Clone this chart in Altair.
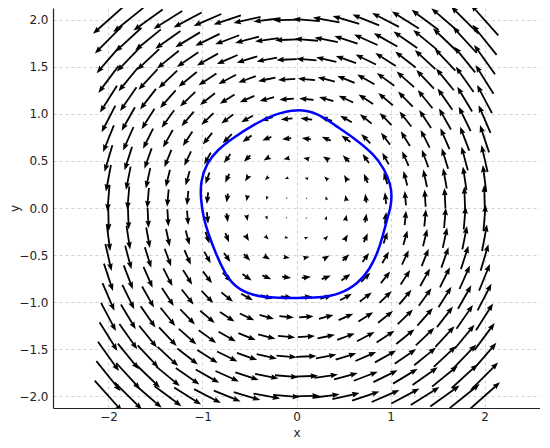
import math
import pandas as pd
import altair as alt

# ---------------- data ----------------
# arrow centres (20 x 20 grid, spacing ~0.21, centres at +-0.105 around 0)
grid = [-2.0, -1.789, -1.579, -1.368, -1.158, -0.947, -0.737, -0.526, -0.316, -0.105,
        0.105, 0.316, 0.526, 0.737, 0.947, 1.158, 1.368, 1.579, 1.789, 2.0]

# counter-clockwise rotating field; arrow length (px) read at r~0.5 (~6.5px), r=1 (~12px), corners (~41px)
LEN_LINEAR = 12.0       # px per unit radius
LEN_CUBIC = 0.33        # px per unit radius^3
OUTWARD_TILT_DEG = 3.3  # tilt away from pure rotation seen at the corners (r = 2.83)

# blue closed curve (rounded pentagon)
curve_x = [1.0, 1.015, 1.0, 0.93, 0.83, 0.62, 0.40, 0.23, 0.0, -0.23, -0.46, -0.67, -0.84,
           -0.96, -1.02, -1.02, -0.99, -0.94, -0.86, -0.77, -0.66, -0.46, -0.24, 0.0,
           0.24, 0.46, 0.66, 0.78, 0.87, 0.92, 0.96]
curve_y = [0.0, 0.12, 0.26, 0.42, 0.566, 0.74, 0.885, 1.01, 1.055, 1.0, 0.885, 0.75, 0.62,
           0.47, 0.28, 0.1, -0.1, -0.27, -0.48, -0.68, -0.84, -0.935, -0.955, -0.957,
           -0.955, -0.92, -0.8, -0.65, -0.46, -0.29, -0.13]

x_ticks = [-2, -1, 0, 1, 2]
y_ticks = [-2.0, -1.5, -1.0, -0.5, 0.0, 0.5, 1.0, 1.5, 2.0]

# ---------------- layout ----------------
XMIN, XMAX = -2.59, 2.59
W, H = 487, 400
PX = W / (XMAX - XMIN)  # pixels per data unit (equal aspect)
YMAX = H / 2 / PX
YMIN = -YMAX

HEAD_LEN = 7.5   # px
SHAFT_W = 1.8    # px
HEAD_PATH = "M0,0 L0.38,1 L0,0.86 L-0.38,1 Z"

shaft_rows, head_rows = [], []
for gy in grid:
    for gx in grid:
        r = math.hypot(gx, gy)
        L = LEN_LINEAR * r + LEN_CUBIC * r ** 3
        phi = math.atan2(gy, gx) + math.pi / 2 - math.radians(OUTWARD_TILT_DEG * (r / 2.83) ** 2)
        ux, uy = math.cos(phi), math.sin(phi)
        half = L / PX / 2
        tipx, tipy = gx + ux * half, gy + uy * half
        tailx, taily = gx - ux * half, gy - uy * half
        h = min(HEAD_LEN, L)
        if L > h + 0.2:
            back = 0.8 * h / PX
            shaft_rows.append({"x0": tailx, "y0": taily,
                               "x1": tipx - ux * back, "y1": tipy - uy * back})
        head_rows.append({"x0": tipx, "y0": tipy,
                          "angle": (90 - math.degrees(phi)) % 360,
                          "size": 4 * h * h})

shaft_df = pd.DataFrame(shaft_rows)
head_df = pd.DataFrame(head_rows)
curve_df = pd.DataFrame({"x0": curve_x, "y0": curve_y, "i": list(range(len(curve_x)))})

x_scale = alt.Scale(domain=[XMIN, XMAX], nice=False, zero=False)
y_scale = alt.Scale(domain=[YMIN, YMAX], nice=False, zero=False)

grid_style = dict(grid=True, gridColor="#c8c8c8", gridDash=[3, 3], gridWidth=0.8,
                  domainColor="#222222", domainWidth=1.2, ticks=False,
                  labelFontSize=12, labelColor="#222222", labelFont="DejaVu Sans",
                  titleFontSize=12, titleFontWeight="normal", titleColor="#222222",
                  titleFont="DejaVu Sans")
x_axis = alt.Axis(values=x_ticks, format="d", title="x", labelPadding=3,
                  titleY=28, titleBaseline="alphabetic", **grid_style)
y_axis = alt.Axis(values=y_ticks, format=".1f", title="y", labelPadding=5,
                  titleX=-39, titleBaseline="middle", titleAngle=270, **grid_style)

X = lambda f: alt.X(f, type="quantitative", scale=x_scale, axis=x_axis)
Y = lambda f: alt.Y(f, type="quantitative", scale=y_scale, axis=y_axis)

shafts = alt.Chart(shaft_df).mark_rule(color="black", strokeWidth=SHAFT_W, strokeCap="butt", clip=True).encode(
    x=X("x0"), y=Y("y0"), x2="x1:Q", y2="y1:Q")

heads = alt.Chart(head_df).mark_point(shape=HEAD_PATH, filled=True, color="black", opacity=1,
                                      strokeWidth=0, clip=True).encode(
    x=X("x0"), y=Y("y0"),
    angle=alt.Angle("angle:Q", scale=None),
    size=alt.Size("size:Q", scale=None))

curve = alt.Chart(curve_df).mark_line(color="#0000ff", strokeWidth=2.5, interpolate="basis-closed",
                                      clip=True).encode(
    x=X("x0"), y=Y("y0"), order="i:Q")

chart = alt.layer(shafts, heads, curve).properties(
    width=W, height=H, autosize="none",
    padding={"left": 45, "top": 0, "right": 0, "bottom": 32},
).configure_view(stroke=None)

chart.save("out.html", embed_options={"renderer": "svg", "actions": False})
